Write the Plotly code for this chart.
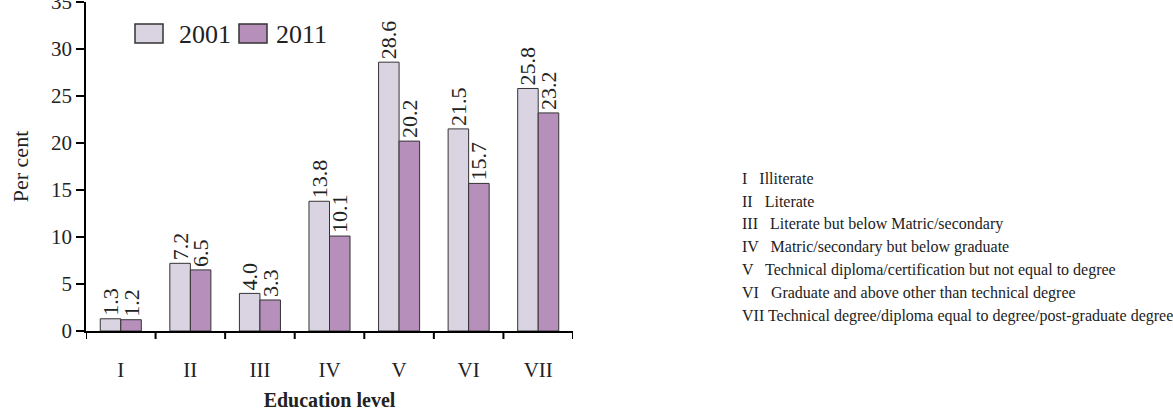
import plotly.graph_objects as go

categories = ["I", "II", "III", "IV", "V", "VI", "VII"]
values_2001 = [1.3, 7.2, 4.0, 13.8, 28.6, 21.5, 25.8]
values_2011 = [1.2, 6.5, 3.3, 10.1, 20.2, 15.7, 23.2]
series_names = ["2001", "2011"]
series_colors = ["#dad4e2", "#b690bb"]
y_ticks = [0, 5, 10, 15, 20, 25, 30, 35]
key_lines = [
    "I   Illiterate",
    "II   Literate",
    "III   Literate but below Matric/secondary",
    "IV   Matric/secondary but below graduate",
    "V   Technical diploma/certification but not equal to degree",
    "VI   Graduate and above other than technical degree",
    "VII Technical degree/diploma equal to degree/post-graduate degree",
]

FONT = "Liberation Serif, Times New Roman, serif"

W, H = 1173, 412
ml, mr, mt, mb = 86, 600, 2, 81
pw, ph = W - ml - mr, H - mt - mb


def px_x(p):
    return (p - ml) / pw


def px_y(p):
    return 1 - (p - mt) / ph


fig = go.Figure()
for name, color, vals in zip(series_names, series_colors, [values_2001, values_2011]):
    fig.add_trace(go.Bar(
        x=categories, y=vals, name=name,
        marker=dict(color=color, line=dict(color="#333333", width=1)),
        text=[f"{v:.1f}" for v in vals], textposition="outside",
        textangle=-90, textfont=dict(size=22, color="#222222", family=FONT),
        cliponaxis=False, constraintext="none", showlegend=False,
    ))

# legend drawn as boxes + labels (larger swatches as in the reference)
legend_boxes = [(135, 163, 177), (239, 267, 274)]
for (bx0, bx1, tx), name, color in zip(legend_boxes, series_names, series_colors):
    fig.add_shape(
        type="rect", xref="paper", yref="paper",
        x0=px_x(bx0), x1=px_x(bx1), y0=px_y(43), y1=px_y(24),
        fillcolor=color, line=dict(color="#333333", width=1.5),
    )
    fig.add_annotation(
        x=px_x(tx), y=px_y(34), xref="paper", yref="paper",
        text=name, showarrow=False, xanchor="left", yanchor="middle",
        font=dict(size=26, family=FONT, color="#222222"),
    )

for i, line in enumerate(key_lines):
    fig.add_annotation(
        x=px_x(740), y=px_y(178 + i * 23),
        xref="paper", yref="paper",
        text=line, showarrow=False, xanchor="left", yanchor="middle",
        font=dict(size=16, family=FONT, color="#222222"),
    )

fig.update_layout(
    width=W, height=H,
    margin=dict(l=ml, r=mr, t=mt, b=mb, autoexpand=False),
    paper_bgcolor="white", plot_bgcolor="white",
    barmode="group", bargap=0.41, bargroupgap=0.0,
    font=dict(family=FONT, size=21, color="#222222"),
    showlegend=False,
    xaxis=dict(
        title=dict(text="<b>Education level</b>", font=dict(size=20, family=FONT), standoff=12),
        showline=True, linecolor="black", linewidth=2,
        ticks="", tickfont=dict(size=21, family=FONT),
        showgrid=False, ticklabelstandoff=19, automargin=False,
        range=[-0.5, len(categories) - 0.5],
    ),
    yaxis=dict(
        title=dict(text="Per cent", font=dict(size=22, family=FONT), standoff=16),
        range=[0, 35], tickvals=y_ticks,
        showline=True, linecolor="black", linewidth=1.5,
        ticks="outside", ticklen=8, tickcolor="black", tickwidth=1.5,
        tickfont=dict(size=21, family=FONT), ticklabeloverflow="allow",
        showgrid=False, zeroline=False, automargin=False,
    ),
)

# category boundary tick marks on x axis (between groups)
for k in range(len(categories) + 1):
    fig.add_shape(
        type="line", xref="x", yref="paper",
        x0=k - 0.5, x1=k - 0.5, y0=0, y1=-8 / ph,
        line=dict(color="black", width=2),
    )

fig.write_html(
    "out.html",
    config={"displayModeBar": False},
    post_script="document.body.style.margin='0';document.body.style.overflow='hidden';",
)
